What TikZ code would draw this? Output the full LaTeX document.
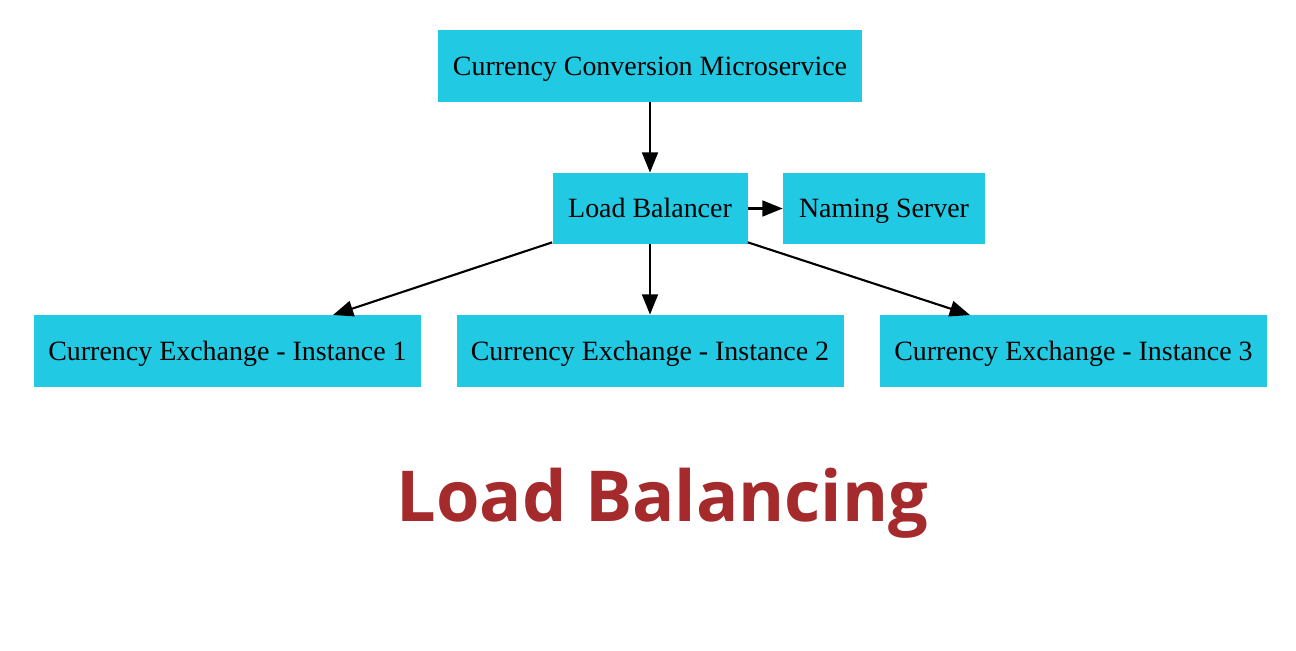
\documentclass[tikz,border=0pt]{standalone}
\usepackage{fontspec}
\setmainfont{Liberation Serif}
\newfontfamily\titlefont{Open Sans}
\usetikzlibrary{arrows.meta}
\definecolor{boxcyan}{RGB}{34,201,226}
\definecolor{titlered}{RGB}{165,42,44}
\begin{document}
\begin{tikzpicture}[x=0.02cm,y=-0.02cm,
  box/.style={fill=boxcyan,draw=none,inner sep=0pt,font=\fontsize{15.9}{18}\selectfont,text=black,text height=10.5pt,text depth=0pt},
  conn/.style={line width=1.2pt,-{Triangle[length=11.5pt,width=9pt]}}]
\useasboundingbox[fill=white] (0,0) rectangle (1296,650);
\node[box,minimum width=424*0.02cm,minimum height=72*0.02cm] (conv) at (650,66) {Currency Conversion Microservice};
\node[box,minimum width=195*0.02cm,minimum height=71*0.02cm] (lb) at (650,208.5) {Load Balancer};
\node[box,minimum width=202*0.02cm,minimum height=71*0.02cm] (ns) at (884,208.5) {Naming Server};
\node[box,minimum width=387*0.02cm,minimum height=72*0.02cm] (i1) at (227.5,351) {Currency Exchange - Instance 1};
\node[box,minimum width=387*0.02cm,minimum height=72*0.02cm] (i2) at (650,351) {Currency Exchange - Instance 2};
\node[box,minimum width=387*0.02cm,minimum height=72*0.02cm] (i3) at (1073.5,351) {Currency Exchange - Instance 3};
\coordinate (i1t) at (333,315);
\coordinate (i3t) at (970,315);
\draw[conn] (conv.south) -- (lb.north);
\draw[conn] (lb.east) -- (ns.west);
\draw[conn] (lb.south west) ++(0,-2) -- (i1t);
\draw[conn] (lb.south) -- (i2.north);
\draw[conn] (lb.south east) ++(0,-2) -- (i3t);
\node[font=\titlefont\bfseries\fontsize{40}{46}\selectfont,text=titlered,inner sep=0pt,anchor=base] (title) at (662.5,521) {Load Balancing};
\end{tikzpicture}
\end{document}
